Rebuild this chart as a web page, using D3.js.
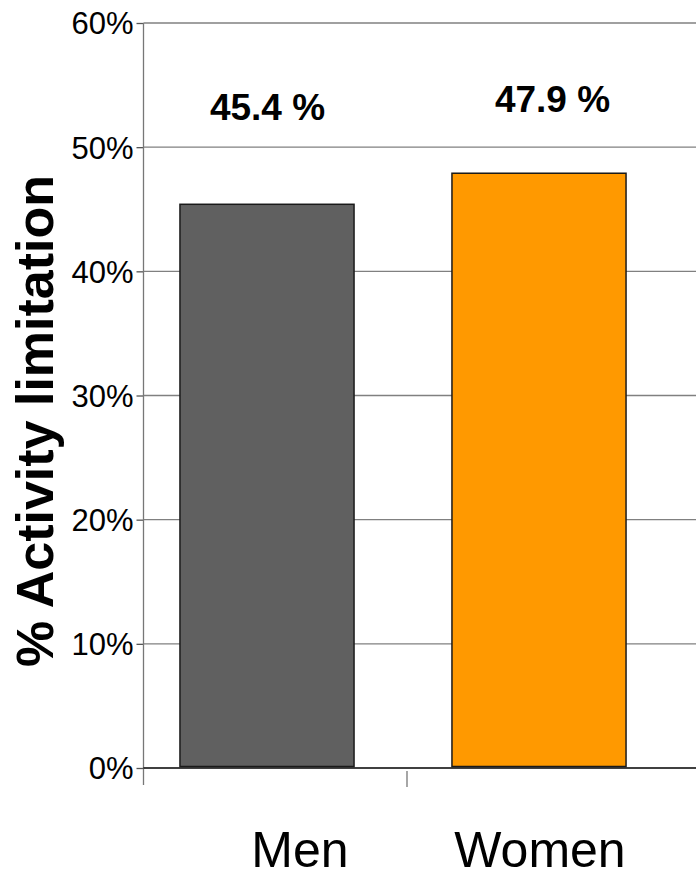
<!DOCTYPE html>
<html>
<head>
<meta charset="utf-8">
<script src="https://cdn.jsdelivr.net/npm/d3@7"></script>
<style>
  html, body { margin: 0; padding: 0; background: #fff; }
  svg { display: block; font-family: "Liberation Sans", Arial, sans-serif; }
</style>
</head>
<body>
<svg id="chart" width="696" height="873"></svg>
<script>
const categories = ["Men", "Women"];
const values = [45.4, 47.9];
const valueLabels = ["45.4 %", "47.9 %"];
const colors = ["#606060", "#FF9900"];
const yTicks = [0, 10, 20, 30, 40, 50, 60];
const yTitle = "% Activity limitation";

const svg = d3.select("#chart");
const axisX = 143.5, yTop = 23, yBottom = 768;

const y = d3.scaleLinear().domain([0, 60]).range([yBottom, yTop]);
const x = d3.scaleBand().domain(categories).range([131, 675]);
const xValLab = d3.scaleBand().domain(categories).range([125, 695]);
const xCatLab = d3.scaleBand().domain(categories).range([180, 660]);
const barW = x.bandwidth() * 0.64;

// gridlines
svg.append("g").selectAll("line").data(yTicks.filter(d => d > 0)).join("line")
  .attr("x1", axisX).attr("x2", 696)
  .attr("y1", d => y(d)).attr("y2", d => y(d))
  .attr("stroke", "#808080").attr("stroke-width", 1.3);

// y axis
const yAxis = svg.append("g").attr("transform", `translate(${axisX},0)`)
  .call(d3.axisLeft(y).tickValues(yTicks).tickSize(7).tickPadding(3).tickFormat(d => d + "%"));
yAxis.select(".domain").remove();
yAxis.selectAll(".tick line").attr("stroke", "#555").attr("stroke-width", 1.3);
yAxis.selectAll(".tick text").attr("font-size", 31).attr("fill", "#000")
  .attr("font-family", "Liberation Sans, Arial, sans-serif").attr("dy", "0.35em");
svg.append("line").attr("x1", axisX).attr("x2", axisX).attr("y1", yTop).attr("y2", 785)
  .attr("stroke", "#777").attr("stroke-width", 1.3);

// bars
svg.append("g").selectAll("rect").data(categories).join("rect")
  .attr("x", d => x(d) + (x.bandwidth() - barW) / 2)
  .attr("width", barW)
  .attr("y", (d, i) => y(values[i]))
  .attr("height", (d, i) => y(0) - y(values[i]) - 1.5)
  .attr("fill", (d, i) => colors[i])
  .attr("stroke", "#1a1a1a").attr("stroke-width", 1.5);

// x axis line and separator tick
svg.append("line").attr("x1", axisX).attr("x2", 696).attr("y1", yBottom).attr("y2", yBottom)
  .attr("stroke", "#000").attr("stroke-width", 1.5);
svg.append("g").selectAll("line").data(categories.slice(1)).join("line")
  .attr("x1", d => x(d) + 4).attr("x2", d => x(d) + 4)
  .attr("y1", 771).attr("y2", 787)
  .attr("stroke", "#777").attr("stroke-width", 1.3);

// value labels
svg.append("g").selectAll("text").data(categories).join("text")
  .attr("x", d => xValLab(d) + xValLab.bandwidth() / 2)
  .attr("y", (d, i) => i === 0 ? 120 : 112)
  .attr("text-anchor", "middle").attr("font-weight", "bold").attr("font-size", 37)
  .text((d, i) => valueLabels[i]);

// category labels
svg.append("g").selectAll("text").data(categories).join("text")
  .attr("x", d => xCatLab(d) + xCatLab.bandwidth() / 2)
  .attr("y", 867)
  .attr("text-anchor", "middle").attr("font-size", 50)
  .text(d => d);

// y title
svg.append("text")
  .attr("transform", "translate(53,421) rotate(-90)")
  .attr("text-anchor", "middle").attr("font-weight", "bold").attr("font-size", 52)
  .text(yTitle);
</script>
</body>
</html>
